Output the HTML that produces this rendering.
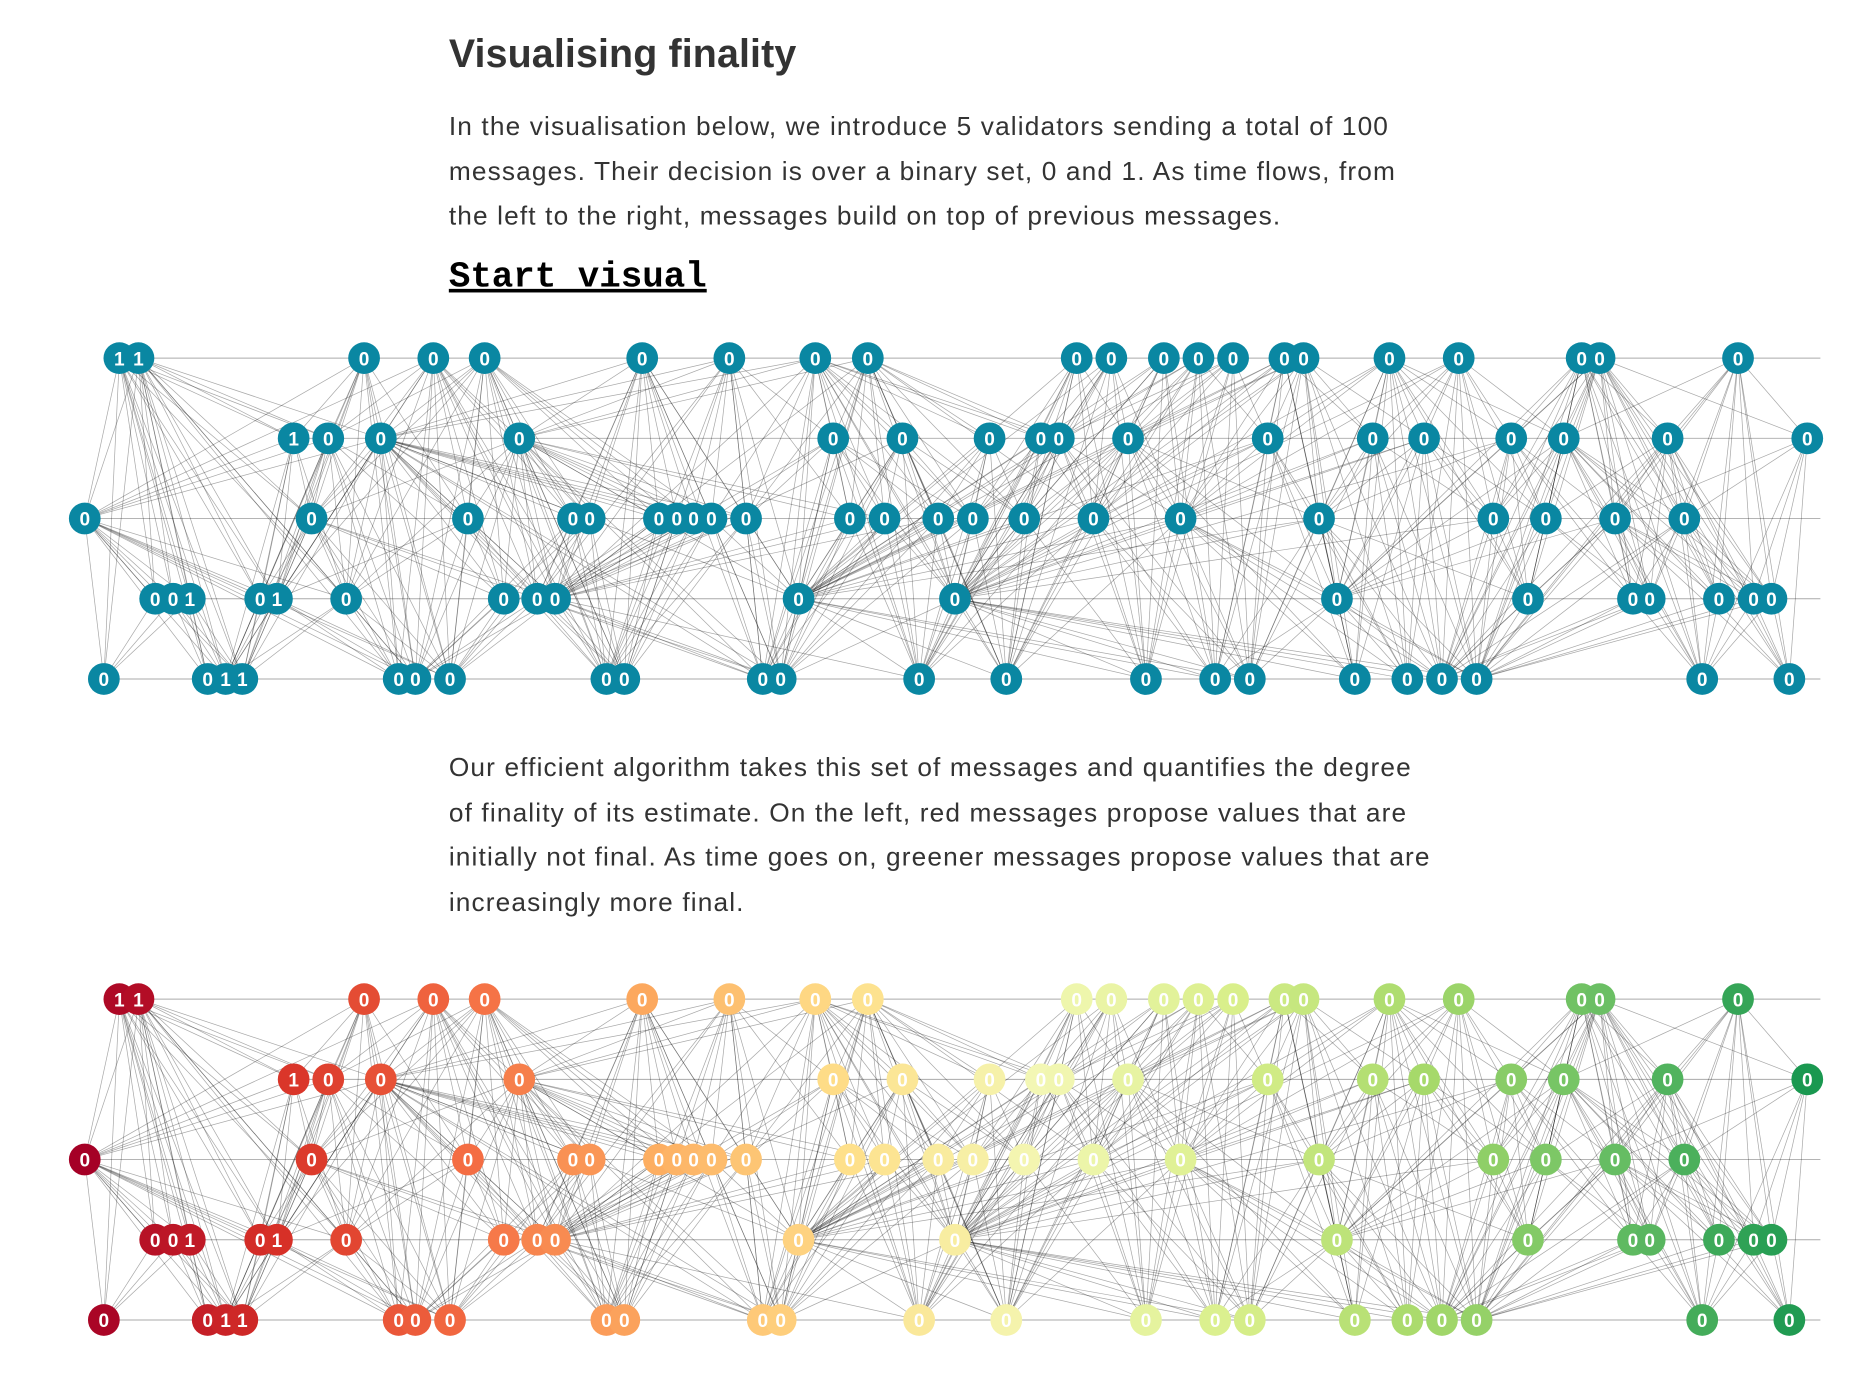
<!DOCTYPE html>
<html><head><meta charset="utf-8"><style>
html,body{margin:0;padding:0;background:#fff;}
#wrap{position:relative;width:1567px;height:1153px;transform:scale(1.1937);transform-origin:0 0;overflow:hidden;font-family:"Liberation Sans",sans-serif;color:#333;}
h1{position:absolute;left:376px;top:26px;margin:0;font-size:33px;font-weight:bold;color:#333;letter-spacing:0.1px;}
p{position:absolute;left:376px;margin:0;font-size:22px;line-height:37.7px;color:#333;white-space:nowrap;letter-spacing:0.95px;}
#start{position:absolute;left:376px;top:216px;font-family:"Liberation Mono",monospace;font-weight:bold;font-size:30px;color:#000;text-decoration:underline;}
svg{position:absolute;left:0;}
</style></head><body>
<div id="wrap">
<h1>Visualising finality</h1>
<p style="top:87px">In the visualisation below, we introduce 5 validators sending a total of 100<br>messages. Their decision is over a binary set, 0 and 1. As time flows, from<br>the left to the right, messages build on top of previous messages.</p>
<div id="start">Start visual</div>
<svg id="c1" width="1567" height="320" style="top:270px"></svg>
<p style="top:624px">Our efficient algorithm takes this set of messages and quantifies the degree<br>of finality of its estimate. On the left, red messages propose values that are<br>initially not final. As time goes on, greener messages propose values that are<br>increasingly more final.</p>
<svg id="c2" width="1567" height="320" style="top:807px"></svg>
</div>
<script>
// message times (x) per validator row, and proposed values
const row0Times=[100,116,305,363,406,538,611,683,727,902,931,975,1004,1033,1076,1092,1164,1222,1325,1340,1456];
const row0Vals=[1,1,0,0,0,0,0,0,0,0,0,0,0,0,0,0,0,0,0,0,0];
const row1Times=[246,275,319,435,698,756,829,872,887,945,1062,1150,1193,1266,1310,1397,1514];
const row1Vals=[1,0,0,0,0,0,0,0,0,0,0,0,0,0,0,0,0];
const row2Times=[71,261,392,480,494,552,567,581,596,625,712,741,786,815,858,916,989,1105,1251,1295,1353,1411];
const row2Vals=[0,0,0,0,0,0,0,0,0,0,0,0,0,0,0,0,0,0,0,0,0,0];
const row3Times=[130,145,159,218,232,290,422,450,465,669,800,1120,1280,1368,1382,1440,1469,1484];
const row3Vals=[0,0,1,0,1,0,0,0,0,0,0,0,0,0,0,0,0,0];
const row4Times=[87,174,189,203,334,348,377,508,523,639,654,770,843,960,1018,1047,1135,1179,1208,1237,1426,1499];
const row4Vals=[0,0,1,1,0,0,0,0,0,0,0,0,0,0,0,0,0,0,0,0,0,0];
const rowsT=[row0Times,row1Times,row2Times,row3Times,row4Times];
const rowsV=[row0Vals,row1Vals,row2Vals,row3Vals,row4Vals];
const rowY=r=>30+r*67.2;
const NS='http://www.w3.org/2000/svg';
const stops=['#a50026','#d73027','#f46d43','#fdae61','#fee08b','#f3f7b4','#d9ef8b','#a6d96a','#66bd63','#1a9850'];
function hex(h){return [1,3,5].map(i=>parseInt(h.substr(i,2),16));}
function rdylgn(t){t=Math.max(0,Math.min(1,t))*(stops.length-1);const i=Math.min(stops.length-2,Math.floor(t)),f=t-i;const a=hex(stops[i]),b=hex(stops[i+1]);return 'rgb('+a.map((v,k)=>Math.round(v+(b[k]-v)*f)).join(',')+')';}
function draw(svg,colorFn){
  const nodes=[];rowsT.forEach((ts,r)=>ts.forEach((x,i)=>nodes.push({x,r,v:rowsV[r][i]})));
  const gl=document.createElementNS(NS,'g');svg.appendChild(gl);
  for(let r=0;r<5;r++){const l=document.createElementNS(NS,'line');
    
    
    l.setAttribute('x1',rowsT[r][0]);l.setAttribute('x2',1525);l.setAttribute('y1',rowY(r));l.setAttribute('y2',rowY(r));l.setAttribute('stroke','#aaa');l.setAttribute('stroke-width','0.8');gl.appendChild(l);}
  nodes.forEach(n=>{
    for(let r=0;r<5;r++){if(r===n.r)continue;
      const prev=rowsT[r].filter(x=>x<n.x-5);
      prev.slice(-2).forEach(px=>{const l=document.createElementNS(NS,'line');
        
        
        l.setAttribute('x1',n.x);l.setAttribute('y1',rowY(n.r));l.setAttribute('x2',px);l.setAttribute('y2',rowY(r));l.setAttribute('stroke','rgba(0,0,0,0.34)');l.setAttribute('stroke-width','0.6');gl.appendChild(l);});
    }
  });
  const gc=document.createElementNS(NS,'g');svg.appendChild(gc);
  const gt=document.createElementNS(NS,'g');svg.appendChild(gt);
  nodes.forEach(n=>{
    const c=document.createElementNS(NS,'circle');
    
    
    c.setAttribute('cx',n.x);c.setAttribute('cy',rowY(n.r));c.setAttribute('r',13.3);c.setAttribute('fill',colorFn(n));gc.appendChild(c);
    const t=document.createElementNS(NS,'text');
    
    
    t.setAttribute('x',n.x);t.setAttribute('y',rowY(n.r)+6);t.setAttribute('text-anchor','middle');t.setAttribute('font-size','16');t.setAttribute('font-weight','bold');t.setAttribute('fill','#fff');t.setAttribute('font-family','Liberation Sans, sans-serif');t.textContent=n.v;gt.appendChild(t);
  });
}
draw(document.getElementById('c1'),()=>'#0a87a2');
draw(document.getElementById('c2'),n=>rdylgn((n.x-71)/(1514-71)));
</script>
</body></html>
